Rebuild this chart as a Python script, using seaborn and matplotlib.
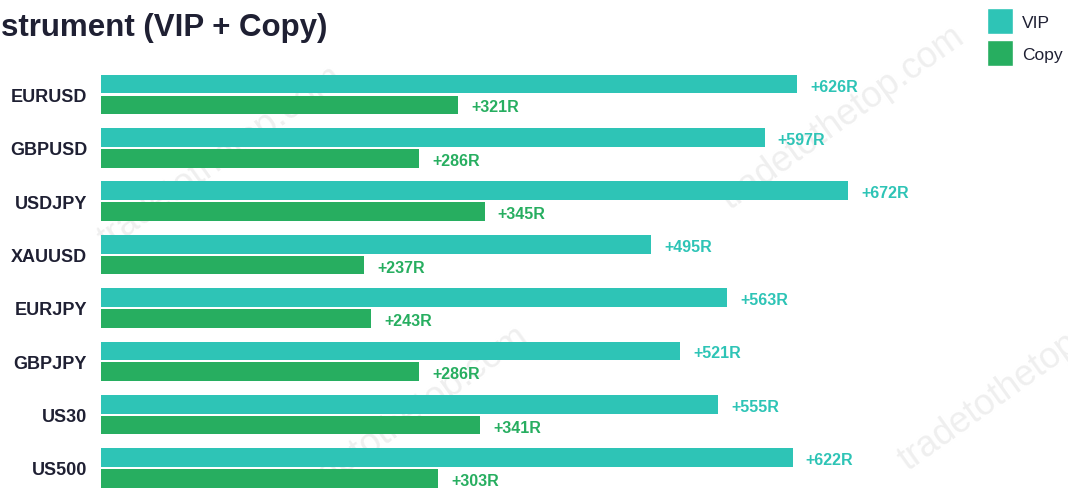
import matplotlib
matplotlib.use("Agg")
import matplotlib.pyplot as plt
from matplotlib.patches import Patch
import seaborn as sns
import pandas as pd

sns.set_theme(style="white")
plt.rcParams['font.family'] = ['Liberation Sans', 'DejaVu Sans']

# dados
instrumentos = ["EURUSD", "GBPUSD", "USDJPY", "XAUUSD", "EURJPY", "GBPJPY", "US30", "US500"]
vip_r = [626, 597, 672, 495, 563, 521, 555, 622]
copy_r = [321, 286, 345, 237, 243, 286, 341, 303]
grupos = ["VIP", "Copy"]

COR_VIP = "#2ec4b6"
COR_COPY = "#27ae60"
COR_TEXTO = "#1f2033"

df = pd.DataFrame({"Instrumento": instrumentos, "VIP": vip_r, "Copy": copy_r})
df_long = df.melt(id_vars="Instrumento", value_vars=grupos, var_name="Grupo", value_name="R")

W, H = 1068, 489
fig = plt.figure(figsize=(W / 100, H / 100), dpi=100)

# eixo: x=0 em 101px, 1.1118 px por R; categorias a cada 53.36px
x_max = 800
larg_px = x_max * 1.1118
alt_px = 8 * 53.36
topo_px = 68.8
ax = fig.add_axes([101 / W, 1 - (topo_px + alt_px) / H, larg_px / W, alt_px / H])

sns.barplot(data=df_long, y="Instrumento", x="R", hue="Grupo", orient="h",
            palette=[COR_VIP, COR_COPY], saturation=1, width=0.78, gap=0.1,
            linewidth=0, legend=False, ax=ax, order=instrumentos, hue_order=grupos)

ax.set_xlim(0, x_max)
ax.set_ylim(len(instrumentos) - 0.5, -0.5)
ax.set_xticks([])
ax.set_xlabel("")
ax.set_ylabel("")
ax.tick_params(axis="y", length=0, pad=10)
for lbl in ax.get_yticklabels():
    lbl.set_fontweight("bold")
    lbl.set_fontsize(13)
    lbl.set_color(COR_TEXTO)
sns.despine(left=True, bottom=True)

# rótulos de valor
for cont, valores, cor in zip(ax.containers, [vip_r, copy_r], [COR_VIP, COR_COPY]):
    anns = ax.bar_label(cont, labels=[f"+{v}R" for v in valores], padding=9.4,
                        color=cor, fontweight="bold", fontsize=11.5)
    for a in anns:
        a.xyann = (9.4, -1.5)

# marca d'água
for cx, cy in [(221, 158), (843, 118), (407, 418), (1021, 379)]:
    ax.text(cx / W, 1 - cy / H, "tradetothetop.com", transform=fig.transFigure,
            rotation=35.6, ha="center", va="center", fontsize=26,
            color="#efefef", zorder=0.5, clip_on=False)

# título (a referência mostra só este trecho)
fig.text(1 / W, 1 - 36 / H, "strument (VIP + Copy)",
         ha="left", va="baseline", fontsize=22.5, fontweight="bold", color=COR_TEXTO)

handles = [Patch(facecolor=COR_VIP, label="VIP"), Patch(facecolor=COR_COPY, label="Copy")]
fig.legend(handles=handles, loc="upper left", bbox_to_anchor=(987 / W, 1 - 9 / H),
           bbox_transform=fig.transFigure, frameon=False, fontsize=12.5,
           handlelength=1.5, handleheight=1.93, handletextpad=0.5, labelspacing=0.35,
           borderpad=0, borderaxespad=0, labelcolor=COR_TEXTO)

plt.savefig("out.png", dpi=100)
plt.close()
